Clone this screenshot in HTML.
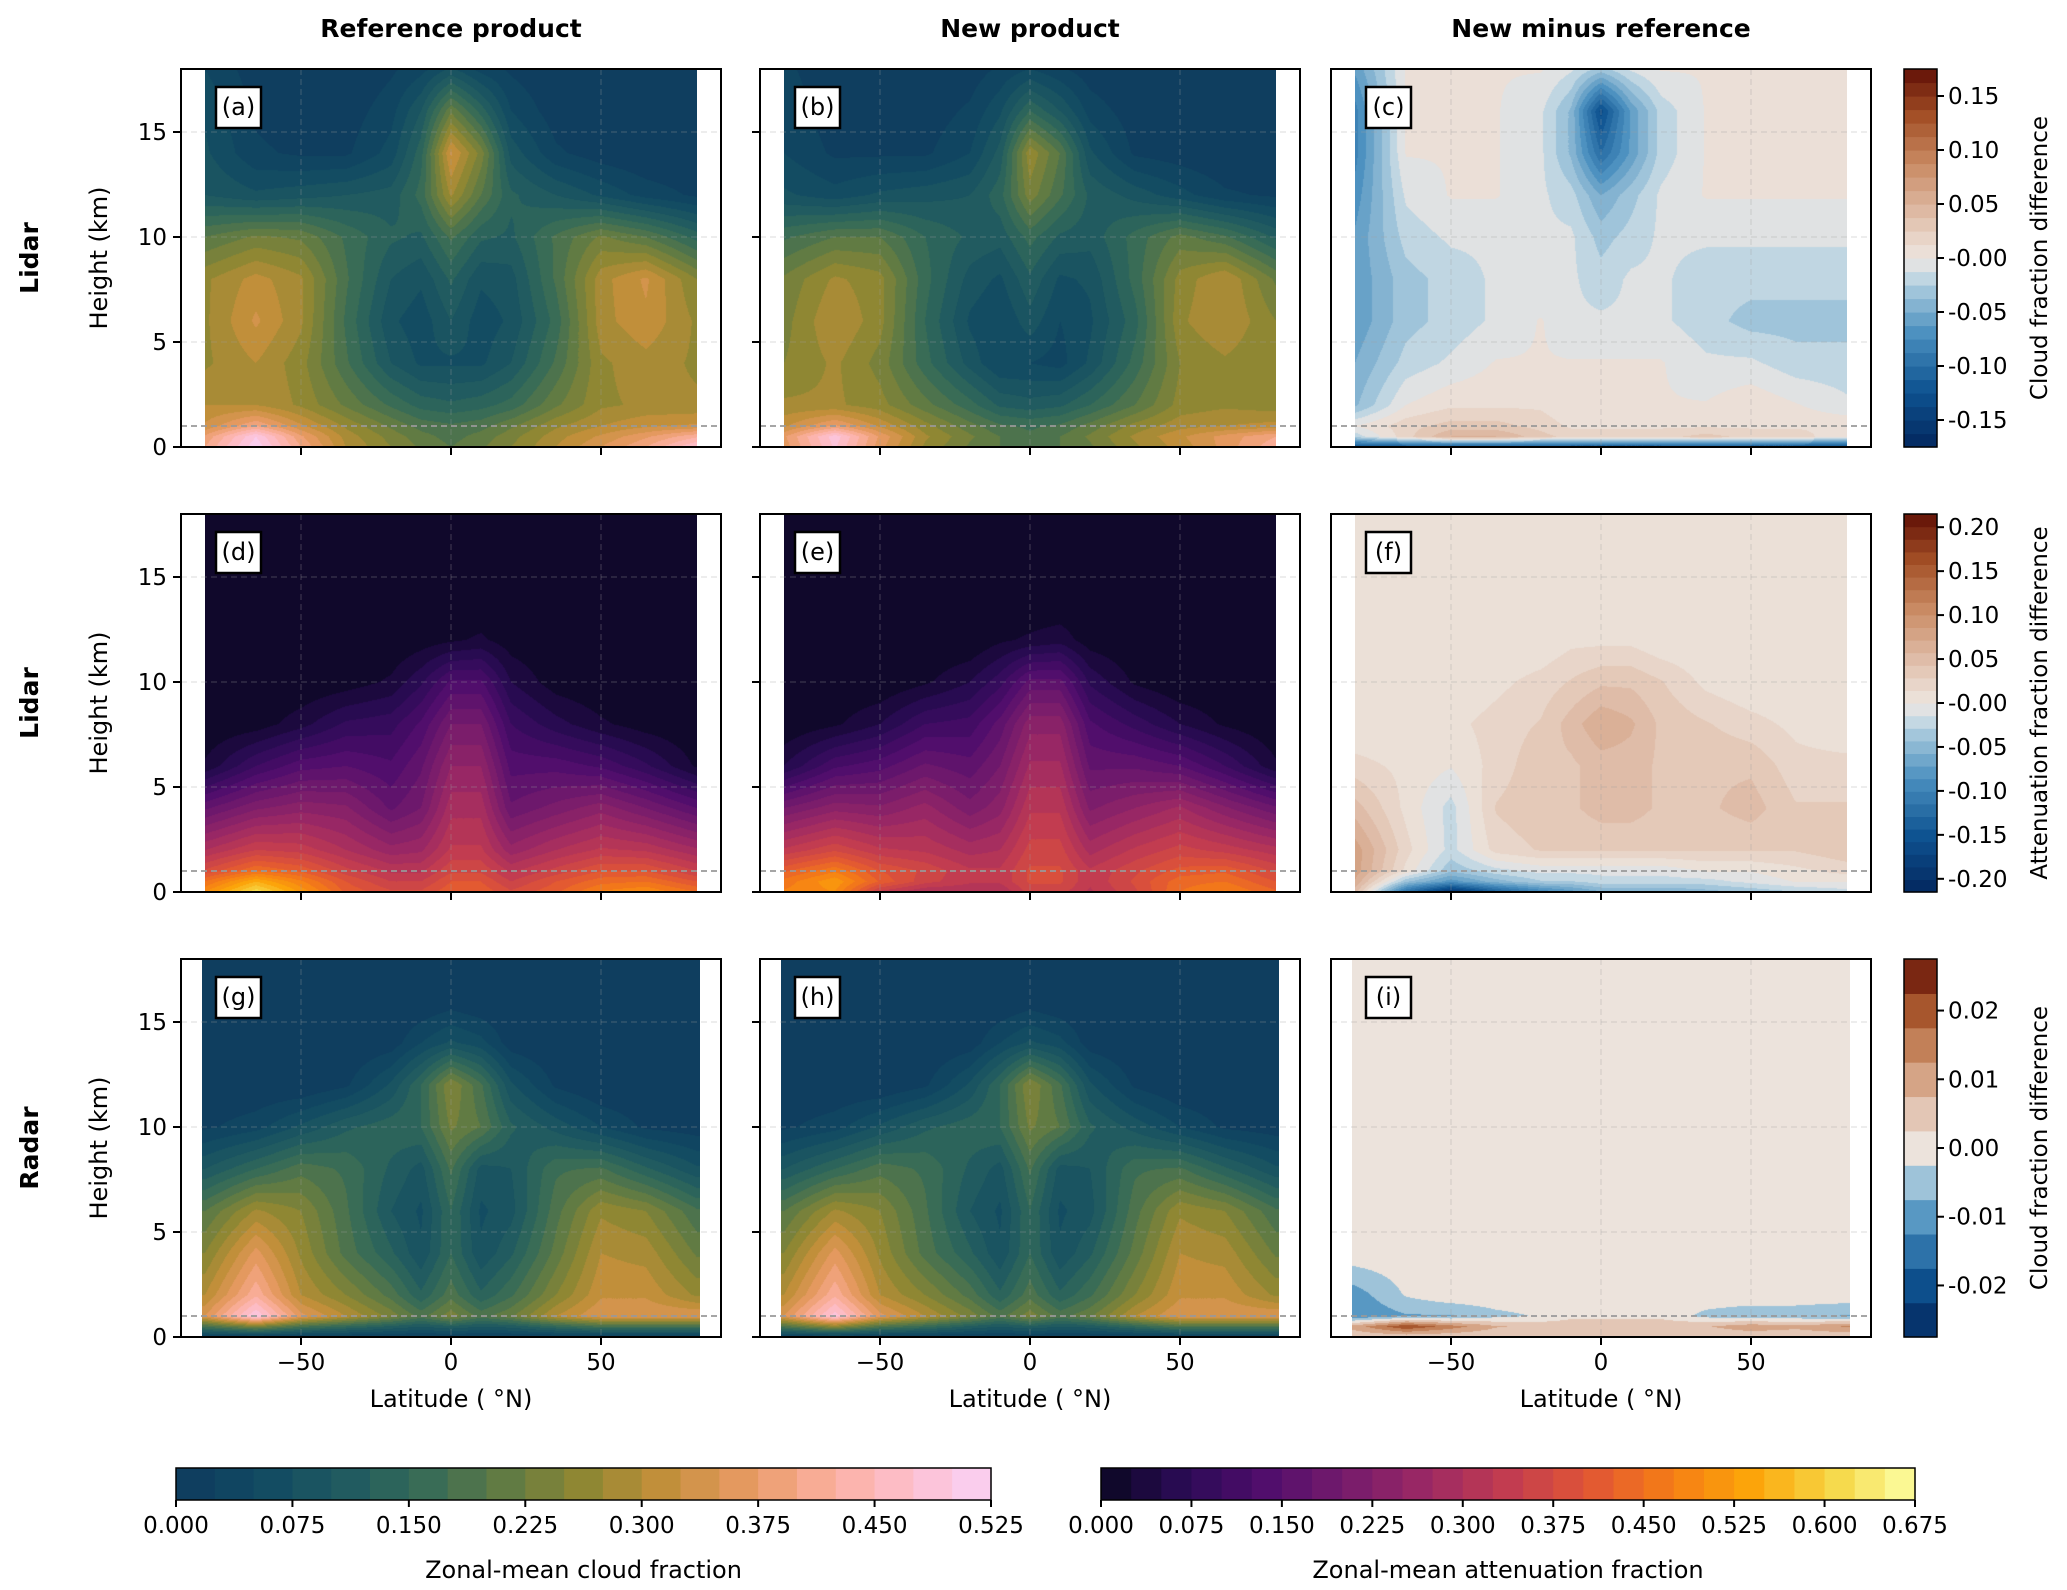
<!DOCTYPE html>
<html><head><meta charset="utf-8"><style>
body{margin:0;background:#fff;}
#wrap{position:relative;width:2067px;height:1590px;overflow:hidden;background:#fff;font-family:"DejaVu Sans","Liberation Sans",sans-serif;}
canvas{position:absolute;}
svg{position:absolute;left:0;top:0;}
</style></head><body>
<div id="wrap">
<svg id="ov" width="2067" height="1590"></svg>
</div>
<script>
// ---------- data ----------
const lats = [-82,-65,-50,-35,-20,-10,0,10,20,35,50,65,82];
const heights = [0,0.5,1,2,4,6,8,10,12,14,16,18];
const lidarRefCloud = [
[.4,.52,.4,.3,.25,.22,.2,.22,.25,.3,.35,.4,.48],
[.38,.5,.38,.29,.24,.21,.19,.21,.24,.29,.33,.37,.42],
[.33,.4,.33,.27,.22,.19,.18,.19,.22,.27,.3,.32,.33],
[.3,.3,.27,.22,.17,.14,.13,.14,.16,.22,.27,.28,.28],
[.27,.3,.26,.18,.1,.07,.07,.07,.1,.18,.27,.29,.27],
[.27,.33,.28,.17,.08,.06,.1,.06,.08,.16,.29,.32,.27],
[.27,.31,.28,.18,.1,.08,.13,.08,.09,.18,.29,.33,.25],
[.2,.23,.22,.17,.13,.12,.18,.13,.12,.18,.23,.2,.14],
[.1,.08,.09,.1,.11,.16,.28,.2,.13,.1,.07,.04,.02],
[.08,.03,.02,.02,.06,.14,.33,.24,.09,.03,.01,0,0],
[.07,.02,.01,.01,.04,.1,.22,.14,.05,.01,0,0,0],
[.05,.01,0,0,.02,.04,.08,.04,.02,0,0,0,0]];
const lidarNewCloud = [
[.36,.48,.36,.27,.22,.2,.18,.2,.22,.27,.31,.36,.42],
[.37,.49,.37,.28,.23,.2,.18,.2,.23,.28,.32,.36,.4],
[.32,.38,.32,.26,.21,.18,.17,.18,.21,.26,.29,.3,.31],
[.28,.28,.26,.21,.16,.12,.11,.12,.15,.2,.26,.27,.26],
[.25,.28,.24,.16,.09,.05,.05,.04,.08,.16,.25,.27,.25],
[.24,.3,.26,.15,.07,.05,.09,.05,.07,.14,.27,.3,.25],
[.23,.28,.26,.16,.09,.07,.12,.07,.08,.16,.26,.3,.22],
[.17,.2,.2,.15,.12,.11,.16,.12,.11,.16,.21,.18,.12],
[.08,.06,.08,.09,.1,.14,.24,.18,.12,.09,.06,.03,.02],
[.05,.02,.02,.02,.05,.11,.27,.2,.08,.02,.01,0,0],
[.04,.01,.01,.01,.03,.07,.15,.1,.04,.01,0,0,0],
[.03,.01,0,0,.01,.03,.05,.03,.01,0,0,0,0]];
const lidarCloudDiff = [
[-.12,-.12,-.12,-.12,-.12,-.12,-.12,-.12,-.12,-.12,-.12,-.12,-.12],
[-.02,.02,.05,.05,.03,.02,.02,.02,.02,.03,.02,.02,0],
[0,.02,.03,.03,.02,.01,.01,.01,.01,.01,.01,.01,.01],
[-.04,0,.01,.01,.01,.001,.001,.001,.001,.001,.01,.001,-.01],
[-.05,-.02,-.01,.001,.001,.001,.001,.001,.001,-.01,-.01,-.02,-.02],
[-.06,-.03,-.02,-.01,.001,-.01,-.01,-.01,-.01,-.02,-.03,-.03,-.03],
[-.06,-.03,-.02,-.01,-.01,-.01,-.02,-.01,-.01,-.02,-.02,-.02,-.02],
[-.06,-.02,-.01,-.01,-.01,-.01,-.03,-.02,-.01,-.01,-.01,-.01,-.01],
[-.07,-.01,.001,.001,-.01,-.02,-.05,-.03,-.01,.001,.001,.001,.001],
[-.08,.001,.001,.001,-.01,-.04,-.1,-.06,-.02,.001,.001,.001,.001],
[-.08,.001,.001,.001,-.01,-.04,-.13,-.06,-.02,.001,.001,.001,.001],
[-.06,.001,.001,.001,.001,-.01,-.03,-.01,.001,.001,.001,.001,.001]];
const attenRef = [
[.5,.62,.52,.42,.38,.38,.42,.42,.38,.42,.48,.5,.45],
[.45,.55,.48,.4,.35,.35,.4,.4,.35,.4,.44,.45,.4],
[.38,.45,.42,.36,.32,.32,.37,.37,.32,.36,.4,.4,.35],
[.3,.35,.34,.3,.26,.27,.33,.33,.26,.3,.33,.32,.28],
[.17,.22,.24,.23,.17,.2,.29,.29,.18,.21,.24,.2,.15],
[.03,.1,.14,.15,.13,.17,.25,.25,.14,.14,.12,.08,.02],
[0,.01,.04,.08,.09,.13,.2,.2,.1,.06,.03,.01,0],
[0,0,0,.01,.03,.07,.13,.13,.05,.01,0,0,0],
[0,0,0,0,0,.01,.02,.03,.01,0,0,0,0],
[0,0,0,0,0,0,0,0,0,0,0,0,0],
[0,0,0,0,0,0,0,0,0,0,0,0,0],
[0,0,0,0,0,0,0,0,0,0,0,0,0]];
const attenNew = [
[.48,.5,.34,.3,.3,.3,.36,.36,.32,.37,.45,.48,.43],
[.46,.52,.42,.36,.33,.33,.38,.38,.33,.38,.44,.45,.4],
[.42,.47,.4,.37,.33,.33,.38,.38,.33,.37,.41,.42,.37],
[.33,.37,.33,.32,.29,.3,.36,.36,.29,.33,.36,.34,.31],
[.2,.24,.23,.26,.21,.24,.32,.32,.22,.25,.28,.23,.18],
[.05,.12,.14,.18,.16,.2,.28,.28,.17,.17,.15,.1,.03],
[0,.02,.05,.1,.11,.16,.24,.24,.13,.09,.05,.02,0],
[0,0,0,.02,.05,.09,.16,.16,.07,.02,0,0,0],
[0,0,0,0,0,.02,.03,.04,.01,0,0,0,0],
[0,0,0,0,0,0,0,0,0,0,0,0,0],
[0,0,0,0,0,0,0,0,0,0,0,0,0],
[0,0,0,0,0,0,0,0,0,0,0,0,0]];
const attenDiff = [
[.05,-.12,-.2,-.14,-.1,-.08,-.06,-.06,-.06,-.05,-.04,-.03,-.02],
[.07,-.04,-.08,-.05,-.03,-.03,-.02,-.02,-.02,-.02,-.01,.001,.001],
[.08,.01,-.04,-.02,-.01,-.01,-.01,-.01,-.01,.001,.001,.01,.02],
[.08,.02,-.02,.02,.03,.03,.03,.03,.03,.03,.03,.03,.04],
[.05,.01,-.02,.03,.04,.04,.05,.05,.04,.04,.05,.03,.03],
[.02,.01,.001,.02,.04,.04,.05,.05,.04,.04,.04,.02,.02],
[.001,.001,.01,.02,.03,.05,.07,.06,.04,.03,.02,.01,.001],
[.001,.001,.001,.01,.02,.03,.04,.04,.03,.01,.001,.001,.001],
[.001,.001,.001,.001,.001,.01,.01,.01,.001,.001,.001,.001,.001],
[.001,.001,.001,.001,.001,.001,.001,.001,.001,.001,.001,.001,.001],
[.001,.001,.001,.001,.001,.001,.001,.001,.001,.001,.001,.001,.001],
[.001,.001,.001,.001,.001,.001,.001,.001,.001,.001,.001,.001,.001]];
const radarRefCloud = [
[.02,.02,.02,.02,.02,.02,.02,.02,.02,.02,.02,.02,.02],
[.18,.24,.18,.15,.12,.1,.12,.1,.11,.15,.18,.18,.18],
[.35,.5,.36,.3,.24,.19,.24,.19,.22,.3,.35,.35,.35],
[.3,.42,.3,.25,.19,.13,.19,.13,.17,.25,.32,.32,.27],
[.25,.36,.27,.19,.13,.08,.15,.08,.12,.21,.3,.29,.22],
[.2,.28,.25,.18,.1,.07,.15,.07,.09,.19,.27,.25,.18],
[.1,.15,.19,.17,.12,.09,.18,.09,.1,.17,.18,.13,.08],
[.02,.04,.08,.12,.14,.15,.23,.2,.13,.09,.05,.02,.01],
[0,0,0,.02,.08,.15,.25,.18,.08,.02,0,0,0],
[0,0,0,0,.01,.05,.08,.06,.01,0,0,0,0],
[0,0,0,0,0,0,.01,0,0,0,0,0,0],
[0,0,0,0,0,0,0,0,0,0,0,0,0]];
const radarNewCloud = [
[.02,.02,.02,.02,.02,.02,.02,.02,.02,.02,.02,.02,.02],
[.19,.26,.19,.16,.12,.1,.12,.1,.11,.15,.19,.19,.19],
[.35,.49,.36,.3,.24,.19,.24,.19,.22,.3,.35,.35,.35],
[.3,.42,.3,.25,.19,.13,.19,.13,.17,.25,.32,.32,.27],
[.25,.36,.27,.19,.13,.08,.15,.08,.12,.21,.3,.29,.22],
[.2,.28,.25,.18,.1,.07,.15,.07,.09,.19,.27,.25,.18],
[.1,.15,.19,.17,.12,.09,.18,.09,.1,.17,.18,.13,.08],
[.02,.04,.08,.12,.14,.15,.23,.2,.13,.09,.05,.02,.01],
[0,0,0,.02,.08,.15,.25,.18,.08,.02,0,0,0],
[0,0,0,0,.01,.05,.08,.06,.01,0,0,0,0],
[0,0,0,0,0,0,.01,0,0,0,0,0,0],
[0,0,0,0,0,0,0,0,0,0,0,0,0]];
const radarDiff = [
[.003,.003,.003,.003,.003,.003,.003,.003,.003,.003,.003,.003,.003],
[.01,.022,.015,.008,.006,.006,.006,.007,.006,.007,.011,.009,.013],
[-.012,-.008,-.008,-.004,-.002,.001,.001,.001,.001,-.004,-.006,-.006,-.008],
[-.01,-.002,.001,.001,.001,.001,.001,.001,.001,.001,.001,.001,.001],
[.001,.001,.001,.001,.001,.001,.001,.001,.001,.001,.001,.001,.001],
[.001,.001,.001,.001,.001,.001,.001,.001,.001,.001,.001,.001,.001],
[.001,.001,.001,.001,.001,.001,.001,.001,.001,.001,.001,.001,.001],
[.001,.001,.001,.001,.001,.001,.001,.001,.001,.001,.001,.001,.001],
[.001,.001,.001,.001,.001,.001,.001,.001,.001,.001,.001,.001,.001],
[.001,.001,.001,.001,.001,.001,.001,.001,.001,.001,.001,.001,.001],
[.001,.001,.001,.001,.001,.001,.001,.001,.001,.001,.001,.001,.001],
[.001,.001,.001,.001,.001,.001,.001,.001,.001,.001,.001,.001,.001]];
const xTicks = [-50,0,50];
const yTicks = [0,5,10,15];
const cloudTicks = ["0.000","0.075","0.150","0.225","0.300","0.375","0.450","0.525"];
const attenTicks = ["0.000","0.075","0.150","0.225","0.300","0.375","0.450","0.525","0.600","0.675"];
const diffTicksC = ["0.15","0.10","0.05","-0.00","-0.05","-0.10","-0.15"];
const diffTicksF = ["0.20","0.15","0.10","0.05","-0.00","-0.05","-0.10","-0.15","-0.20"];
const diffTicksI = ["0.02","0.01","0.00","-0.01","-0.02"];

// ---------- colormaps ----------
const batlow=[[0,'#0e3a5e'],[.1,'#114962'],[.2,'#1e5961'],[.3,'#356a58'],[.4,'#5f7a44'],[.5,'#8f8733'],[.6,'#c38f3a'],[.7,'#e89a63'],[.8,'#fbaf9d'],[.9,'#fdbfcf'],[1,'#f9d2f6']];
const inferno=[[0,'#0a0722'],[.1,'#2a0b55'],[.2,'#500d6c'],[.3,'#751b6c'],[.4,'#9c2964'],[.5,'#c23c50'],[.6,'#e15635'],[.7,'#f57d15'],[.8,'#fca50a'],[.9,'#f6d746'],[1,'#fcffa4']];
const vik=[[0,'#03275e'],[.15,'#0e5391'],[.3,'#4a8fbf'],[.42,'#a6c8dc'],[.47,'#d8e2e8'],[.5,'#ece3dc'],[.53,'#ebddd3'],[.62,'#dfbba6'],[.75,'#c98a63'],[.88,'#a24e25'],[1,'#611006']];
function hx(h){return [parseInt(h.substr(1,2),16),parseInt(h.substr(3,2),16),parseInt(h.substr(5,2),16)];}
function cmap(st,t){t=Math.max(0,Math.min(1,t));for(let i=1;i<st.length;i++){if(t<=st[i][0]){const a=hx(st[i-1][1]),b=hx(st[i][1]);const f=(t-st[i-1][0])/(st[i][0]-st[i-1][0]);return [0,1,2].map(k=>Math.round(a[k]+(b[k]-a[k])*f));}}return hx(st[st.length-1][1]);}
function bandColor(st,v,vmin,vmax,n){let b=Math.floor((v-vmin)/(vmax-vmin)*n);b=Math.max(0,Math.min(n-1,b));return cmap(st,(b+0.5)/n);}
function idx(arr,v){let i=0;while(i<arr.length-2&&v>arr[i+1])i++;return [i,(v-arr[i])/(arr[i+1]-arr[i])];}
function interp(g,lat,h){const [i,fx]=idx(lats,lat),[j,fy]=idx(heights,h);const a=g[j][i],b=g[j][i+1],c=g[j+1][i],d=g[j+1][i+1];const x=Math.max(0,Math.min(1,fx)),y=Math.max(0,Math.min(1,fy));return a*(1-x)*(1-y)+b*x*(1-y)+c*(1-x)*y+d*x*y;}

// ---------- layout ----------
const colX=[181,760,1331], rowY=[69,514,959], PW=540, PH=378;
const wrap=document.getElementById('wrap'), svg=document.getElementById('ov');
const NS='http://www.w3.org/2000/svg';
function el(tag,attrs,txt){const e=document.createElementNS(NS,tag);for(const k in attrs)e.setAttribute(k,attrs[k]);if(txt!==undefined)e.textContent=txt;svg.appendChild(e);return e;}
const xs=(x0,lat)=>x0+(lat+90)/180*PW;
const ys=(y0,h)=>y0+PH-(h/18)*PH;

const panels=[
 {g:lidarRefCloud,st:batlow,min:0,max:.525,n:21,lab:'(a)',r:0,c:0,ext:82},
 {g:lidarNewCloud,st:batlow,min:0,max:.525,n:21,lab:'(b)',r:0,c:1,ext:82},
 {g:lidarCloudDiff,st:vik,min:-.175,max:.175,n:28,lab:'(c)',r:0,c:2,ext:82},
 {g:attenRef,st:inferno,min:0,max:.675,n:27,lab:'(d)',r:1,c:0,ext:82},
 {g:attenNew,st:inferno,min:0,max:.675,n:27,lab:'(e)',r:1,c:1,ext:82},
 {g:attenDiff,st:vik,min:-.215,max:.215,n:30,lab:'(f)',r:1,c:2,ext:82},
 {g:radarRefCloud,st:batlow,min:0,max:.525,n:21,lab:'(g)',r:2,c:0,ext:83},
 {g:radarNewCloud,st:batlow,min:0,max:.525,n:21,lab:'(h)',r:2,c:1,ext:83},
 {g:radarDiff,st:vik,min:-.0275,max:.0275,n:11,lab:'(i)',r:2,c:2,ext:83}];

panels.forEach(p=>{
 const x0=colX[p.c],y0=rowY[p.r];
 const cx0=Math.round(xs(x0,-p.ext)),cx1=Math.round(xs(x0,p.ext));
 const cv=document.createElement('canvas');
 cv.width=cx1-cx0;cv.height=PH;cv.style.left=cx0+'px';cv.style.top=y0+'px';
 
 
 wrap.insertBefore(cv,svg);
 const ctx=cv.getContext('2d'),im=ctx.createImageData(cv.width,PH);
 for(let y=0;y<PH;y++){const h=(PH-y-0.5)/PH*18;
  for(let x=0;x<cv.width;x++){const lat=(cx0+x+0.5-x0)/PW*180-90;
   const v=interp(p.g,lat,h);const col=bandColor(p.st,v,p.min,p.max,p.n);
   const o=(y*cv.width+x)*4;im.data[o]=col[0];im.data[o+1]=col[1];im.data[o+2]=col[2];im.data[o+3]=255;}}
 ctx.putImageData(im,0,0);
 xTicks.forEach(t=>{const e=el('line',{x1:xs(x0,t),x2:xs(x0,t),y1:y0,y2:y0+PH,stroke:'rgba(160,160,160,0.3)','stroke-width':1.2,'stroke-dasharray':'6,4'});});
 yTicks.slice(1).forEach(t=>{const e=el('line',{x1:x0,x2:x0+PW,y1:ys(y0,t),y2:ys(y0,t),stroke:'rgba(160,160,160,0.3)','stroke-width':1.2,'stroke-dasharray':'6,4'});});
 const d=el('line',{x1:x0,x2:x0+PW,y1:ys(y0,1),y2:ys(y0,1),stroke:'#999','stroke-width':1.8,'stroke-dasharray':'6,4'});
 
 const fr=el('rect',{x:x0,y:y0,width:PW,height:PH,fill:'none',stroke:'#000','stroke-width':2});
 
 const lb=el('rect',{x:x0+35,y:y0+18,width:45,height:41,fill:'#fff',stroke:'#000','stroke-width':2.5});
 
 const lt=el('text',{x:x0+57.5,y:y0+46,'font-size':24,'text-anchor':'middle'},p.lab);
 
 if(p.c<2){yTicks.forEach(t=>{el('line',{x1:x0-8,x2:x0,y1:ys(y0,t),y2:ys(y0,t),stroke:'#000','stroke-width':2});
   if(p.c===0){const e=el('text',{x:x0-14,y:ys(y0,t)+8,'font-size':23,'text-anchor':'end'},String(t));}});}
 xTicks.forEach(t=>{el('line',{x1:xs(x0,t),x2:xs(x0,t),y1:y0+PH,y2:y0+PH+8,stroke:'#000','stroke-width':2});
   if(p.r===2){const e=el('text',{x:xs(x0,t),y:y0+PH+33,'font-size':23,'text-anchor':'middle'},(t<0?'\u2212':'')+Math.abs(t));}});
 if(p.r===2){const e=el('text',{x:x0+PW/2,y:y0+PH+70,'font-size':24,'text-anchor':'middle'},'Latitude ( \u00B0N)');}
});
['Reference product','New product','New minus reference'].forEach((t,i)=>{const e=el('text',{x:colX[i]+PW/2,y:37,'font-size':25,'font-weight':'bold','text-anchor':'middle'},t);});
['Lidar','Lidar','Radar'].forEach((t,i)=>{const cy=rowY[i]+PH/2;
 const e=el('text',{x:38,y:cy,'font-size':25,'font-weight':'bold','text-anchor':'middle',transform:`rotate(-90 38 ${cy})`},t);
 const f=el('text',{x:107,y:cy,'font-size':24,'text-anchor':'middle',transform:`rotate(-90 107 ${cy})`},'Height (km)');});

const rcb=[{st:vik,min:-.175,max:.175,n:28,ticks:diffTicksC,lab:'Cloud fraction difference'},
 {st:vik,min:-.215,max:.215,n:30,ticks:diffTicksF,lab:'Attenuation fraction difference'},
 {st:vik,min:-.0275,max:.0275,n:11,ticks:diffTicksI,lab:'Cloud fraction difference'}];
rcb.forEach((c,i)=>{const x0=1904,w=33,y0=rowY[i];
 for(let b=0;b<c.n;b++){const col=cmap(c.st,(b+0.5)/c.n);const e=el('rect',{x:x0,y:y0+PH-(b+1)*PH/c.n,width:w,height:PH/c.n+0.6,fill:`rgb(${col})`});}
 el('rect',{x:x0,y:y0,width:w,height:PH,fill:'none',stroke:'#000','stroke-width':1.5});
 c.ticks.forEach(t=>{const v=parseFloat(t);const y=y0+PH-(v-c.min)/(c.max-c.min)*PH;
  el('line',{x1:x0+w,x2:x0+w+7,y1:y,y2:y,stroke:'#000','stroke-width':2});
  const e=el('text',{x:x0+w+11,y:y+8,'font-size':23},t);});
 const cy=y0+PH/2;const e=el('text',{x:2047,y:cy,'font-size':23,'text-anchor':'middle',transform:`rotate(-90 2047 ${cy})`},c.lab);});

const bcb=[{st:batlow,x0:176,w:815,max:.525,n:21,ticks:cloudTicks,lab:'Zonal-mean cloud fraction'},
 {st:inferno,x0:1101,w:814,max:.675,n:27,ticks:attenTicks,lab:'Zonal-mean attenuation fraction'}];
bcb.forEach(c=>{const y0=1468,h=32;
 for(let b=0;b<c.n;b++){const col=cmap(c.st,(b+0.5)/c.n);const e=el('rect',{x:c.x0+b*c.w/c.n,y:y0,width:c.w/c.n+0.6,height:h,fill:`rgb(${col})`});}
 el('rect',{x:c.x0,y:y0,width:c.w,height:h,fill:'none',stroke:'#000','stroke-width':1.5});
 c.ticks.forEach(t=>{const x=c.x0+parseFloat(t)/c.max*c.w;
  el('line',{x1:x,x2:x,y1:y0+h,y2:y0+h+7,stroke:'#000','stroke-width':2});
  const e=el('text',{x:x,y:y0+h+33,'font-size':23,'text-anchor':'middle'},t);});
 const e=el('text',{x:c.x0+c.w/2,y:1578,'font-size':24,'text-anchor':'middle'},c.lab);});
</script>
</body></html>
